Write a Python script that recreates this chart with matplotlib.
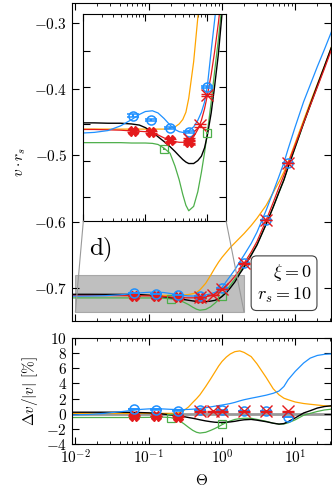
import matplotlib
matplotlib.use('Agg')
import matplotlib.pyplot as plt
from matplotlib.patches import Rectangle, ConnectionPatch
import matplotlib.ticker as ticker

# ---------------- data ----------------
theta = [0.009, 0.015, 0.025, 0.04, 0.06, 0.08, 0.1, 0.13, 0.16, 0.2,
         0.25, 0.3, 0.35, 0.4, 0.45, 0.5, 0.6, 0.7, 0.8, 0.9,
         1.0, 1.15, 1.3, 1.5, 1.75, 2.0, 2.5, 3.0, 4.0, 5.0,
         6.0, 7.0, 8.0, 10, 13, 16, 20, 25, 31]

v_red = [-0.7115, -0.7115, -0.7116, -0.7117, -0.7119, -0.7120, -0.7121, -0.7123, -0.7130, -0.7138,
         -0.7145, -0.7148, -0.7150, -0.7150, -0.7150, -0.7149, -0.7135, -0.7115, -0.7090, -0.7058,
         -0.7021, -0.6965, -0.6905, -0.6825, -0.6725, -0.6630, -0.6460, -0.6300, -0.5980, -0.5710,
         -0.5480, -0.5300, -0.5120, -0.4840, -0.4510, -0.4250, -0.3970, -0.3690, -0.3410]
v_black = [-0.7097, -0.7097, -0.7098, -0.7098, -0.7100, -0.7103, -0.7110, -0.7122, -0.7135, -0.7148,
           -0.7162, -0.7175, -0.7187, -0.7197, -0.7204, -0.7208, -0.7208, -0.7200, -0.7188, -0.7165,
           -0.7130, -0.7070, -0.7000, -0.6910, -0.6785, -0.6690, -0.6510, -0.6355, -0.6040, -0.5780,
           -0.5555, -0.5370, -0.5175, -0.4870, -0.4510, -0.4235, -0.3940, -0.3655, -0.3375]
v_green = [-0.7151, -0.7151, -0.7151, -0.7151, -0.7152, -0.7152, -0.7152, -0.7153, -0.7156, -0.7166,
           -0.7180, -0.7215, -0.7252, -0.7292, -0.7322, -0.7337, -0.7325, -0.7285, -0.7232, -0.7178,
           -0.7122, -0.7040, -0.6960, -0.6870, -0.6760, -0.6670, -0.6500, -0.6345, -0.6040, -0.5780,
           -0.5555, -0.5370, -0.5180, -0.4880, -0.4520, -0.4250, -0.3960, -0.3670, -0.3390]
v_blue = [-0.7125, -0.7123, -0.7118, -0.7105, -0.7088, -0.7074, -0.7066, -0.7064, -0.7070, -0.7085,
          -0.7103, -0.7115, -0.7121, -0.7123, -0.7122, -0.7118, -0.7108, -0.7090, -0.7068, -0.7040,
          -0.6995, -0.6900, -0.6820, -0.6725, -0.6605, -0.6505, -0.6330, -0.6160, -0.5830, -0.5550,
          -0.5315, -0.5110, -0.4900, -0.4565, -0.4190, -0.3935, -0.3660, -0.3400, -0.3140]
v_orange = [-0.7114, -0.7114, -0.7114, -0.7114, -0.7114, -0.7114, -0.7114, -0.7114, -0.7114, -0.7114,
            -0.7112, -0.7108, -0.7100, -0.7088, -0.7068, -0.7030, -0.6930, -0.6810, -0.6700, -0.6610,
            -0.6540, -0.6460, -0.6390, -0.6320, -0.6245, -0.6180, -0.6060, -0.5950, -0.5755, -0.5560,
            -0.5400, -0.5250, -0.5100, -0.4810, -0.4470, -0.4200, -0.3925, -0.3650, -0.3370]

# relative deviation [%] (lower panel)
d_black = [0.2, 0.2, 0.2, 0.2, 0.18, 0.15, 0.12, 0.05, -0.05, -0.15,
           -0.25, -0.38, -0.5, -0.6, -0.7, -0.8, -0.95, -1.05, -1.12, -1.15,
           -1.15, -1.12, -1.08, -1.0, -0.88, -0.8, -0.75, -0.85, -1.05, -1.25,
           -1.37, -1.3, -1.05, -0.55, 0.1, 0.4, 0.75, 0.95, 1.05]
d_green = [-0.5, -0.5, -0.5, -0.5, -0.5, -0.49, -0.48, -0.46, -0.45, -0.5,
           -0.8, -1.3, -1.8, -2.2, -2.45, -2.55, -2.45, -2.2, -1.95, -1.7,
           -1.45, -1.15, -0.95, -0.75, -0.65, -0.6, -0.6, -0.75, -1.0, -1.25,
           -1.37, -1.35, -1.2, -0.8, -0.2, 0.05, 0.3, 0.5, 0.6]
d_blue = [-0.15, -0.1, 0.05, 0.25, 0.45, 0.58, 0.64, 0.66, 0.63, 0.58,
          0.55, 0.55, 0.57, 0.6, 0.65, 0.7, 0.8, 0.9, 1.0, 1.08,
          1.15, 1.25, 1.35, 1.5, 1.7, 1.85, 2.05, 2.2, 2.45, 2.7,
          3.0, 3.6, 4.5, 5.6, 6.7, 7.35, 7.7, 7.85, 7.9]
d_orange = [0.05, 0.05, 0.05, 0.05, 0.05, 0.05, 0.05, 0.05, 0.05, 0.05,
            0.1, 0.4, 0.9, 1.5, 2.0, 2.5, 3.6, 4.6, 5.5, 6.3,
            6.9, 7.5, 7.9, 8.2, 8.3, 8.1, 7.55, 6.6, 4.8, 3.3,
            2.5, 2.05, 1.85, 1.55, 1.35, 1.25, 1.15, 1.05, 1.0]

# simulation points
theta_pts = [0.0625, 0.125, 0.25, 0.5, 1.0, 2.0, 4.0, 8.0]
v_blue_pts = [-0.7077, -0.7090, -0.7111, -0.7123, -0.6999, -0.6629, -0.5979, -0.5118]
d_blue_pts = [0.62, 0.53, 0.4, 0.5, 0.5, 0.36, 0.36, -0.44]
theta_red_lo = [0.0625, 0.125, 0.25, 0.5]
v_red_lo = [-0.7119, -0.7122, -0.7145, -0.7150]
d_red_lo = [-0.25, -0.3, -0.4, -0.45]
theta_red_hi = [0.5, 0.75, 1.0, 2.0, 4.0, 8.0]
v_red_hi = [-0.7140, -0.7104, -0.7021, -0.6629, -0.5979, -0.5118]
d_red_hi = [0.3, 0.3, 0.3, 0.3, 0.3, 0.3]
theta_sq = [0.2, 1.0]
v_sq = [-0.7169, -0.7125]
d_sq = [-0.55, -1.3]
err_v = 0.0003
err_d = 0.05

c_blue = "#1e90ff"
c_red = "#e41a1c"
c_green = "#4daf4a"
c_orange = "#ffa500"

plt.rcParams.update({
    'font.family': 'serif', 'font.serif': ['cmr10'],
    'mathtext.fontset': 'cm', 'axes.formatter.use_mathtext': True,
    'font.size': 11, 'axes.linewidth': 0.8,
    'xtick.direction': 'in', 'ytick.direction': 'in',
    'xtick.top': True, 'ytick.right': True,
    'xtick.major.size': 5, 'ytick.major.size': 5,
    'xtick.minor.size': 2.5, 'ytick.minor.size': 2.5,
})

fig = plt.figure(figsize=(3.32, 4.95), dpi=100)
ax = fig.add_axes([0.2169, 0.3515, 0.780, 0.6424])
axd = fig.add_axes([0.2169, 0.1030, 0.780, 0.2141])
axin = fig.add_axes([0.251, 0.5535, 0.430, 0.418])

xlim = (0.00899, 30.7)
in_xlim = (0.01, 2.0)
in_ylim = (-0.7365, -0.680)


def draw_curves(a):
    a.plot(theta, v_orange, color=c_orange, lw=0.9)
    a.plot(theta, v_green, color=c_green, lw=0.9)
    a.plot(theta, v_black, color="black", lw=1.0)
    a.plot(theta, v_red, color=c_red, lw=0.9)
    a.plot(theta, v_blue, color=c_blue, lw=0.9)
    a.errorbar(theta_sq, v_sq, yerr=err_v, fmt='s', ms=5.5, mfc='none', mec=c_green,
               ecolor=c_green, mew=0.9, capsize=0, zorder=4)
    a.errorbar(theta_red_lo, v_red_lo, yerr=err_v, fmt='X', ms=7, color=c_red,
               capsize=4, zorder=4)
    a.errorbar(theta_pts, v_blue_pts, yerr=err_v, fmt='o', ms=6.5, mfc='none', mec=c_blue,
               ecolor=c_blue, mew=1.1, capsize=4, capthick=1.3, zorder=5)
    a.errorbar(theta_red_hi, v_red_hi, yerr=err_v, fmt='x', ms=8, color=c_red,
               mew=1.0, capsize=4, zorder=6)


# ------------- main panel -------------
draw_curves(ax)
ax.add_patch(Rectangle((in_xlim[0], in_ylim[0]), in_xlim[1] - in_xlim[0], in_ylim[1] - in_ylim[0],
                       facecolor='0.5', edgecolor='0.45', alpha=0.5, lw=0.8, zorder=1))
ax.set_xscale('log')
ax.set_xlim(xlim)
ax.set_ylim(-0.75, -0.27)
ax.set_yticks([-0.7, -0.6, -0.5, -0.4, -0.3])
ax.tick_params(labelbottom=False)
ax.set_ylabel(r'$v \cdot r_s$')
ax.text(0.066, 0.21, 'd)', transform=ax.transAxes, fontsize=18)
ax.text(0.925, 0.05, '$\\xi = 0$\n$r_s = 10$', transform=ax.transAxes, ha='right', va='bottom',
        fontsize=13, bbox=dict(boxstyle='round,pad=0.3', fc='white', ec='0.25', lw=0.8))

# ------------- inset -------------
draw_curves(axin)
axin.set_xscale('log')
axin.set_xlim(in_xlim)
axin.set_ylim(in_ylim)
axin.set_yticks([-0.73, -0.72, -0.71, -0.70, -0.69])
axin.tick_params(labelbottom=False, labelleft=False)
axin.xaxis.set_minor_formatter(ticker.NullFormatter())

for xa, ya in [(0, 0), (1, 0)]:
    cp = ConnectionPatch(xyA=(xa, ya), coordsA=axin.transAxes,
                         xyB=(in_xlim[xa], in_ylim[0]), coordsB=ax.transData,
                         color='0.6', lw=0.8)
    fig.add_artist(cp)

# ------------- deviation panel -------------
axd.axhline(0, color='0.6', lw=2, zorder=1)
axd.plot(theta, d_orange, color=c_orange, lw=0.9)
axd.plot(theta, d_green, color=c_green, lw=0.9)
axd.plot(theta, d_black, color="black", lw=1.0)
axd.plot(theta, d_blue, color=c_blue, lw=0.9)
axd.errorbar(theta_sq, d_sq, yerr=err_d, fmt='s', ms=5.5, mfc='none', mec=c_green,
             ecolor=c_green, mew=0.9, capsize=0, zorder=4)
axd.errorbar(theta_red_lo[:3], d_red_lo[:3], yerr=err_d, fmt='X', ms=7, color=c_red,
             capsize=4, zorder=4)
axd.errorbar(theta_pts, d_blue_pts, yerr=err_d, fmt='o', ms=6.5, mfc='none', mec=c_blue,
             ecolor=c_blue, mew=1.1, capsize=4, capthick=1.3, zorder=5)
axd.errorbar(theta_red_hi, d_red_hi, yerr=err_d, fmt='x', ms=8, color=c_red,
             mew=1.0, capsize=4, zorder=6)
axd.set_xscale('log')
axd.set_xlim(xlim)
axd.set_ylim(-4, 10)
axd.set_yticks([-4, -2, 0, 2, 4, 6, 8, 10])
axd.set_xlabel(r'$\Theta$')
axd.set_ylabel(r'$\Delta v/|v|\ [\%]$')

fig.savefig('out.png', dpi=100)
